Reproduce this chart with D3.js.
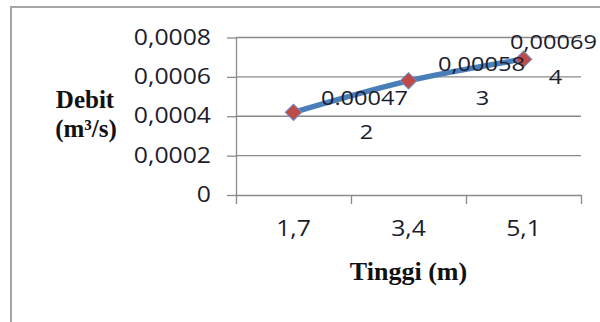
<!DOCTYPE html>
<html>
<head>
<meta charset="utf-8">
<script src="https://cdn.jsdelivr.net/npm/d3@7"></script>
<style>
  body { margin: 0; background: #fff; }
  svg { display: block; }
  .tick text { font-family: 'Open Sans', sans-serif; fill: #1c1c2c; }
  .title { font-family: 'Liberation Serif', 'Times New Roman', serif; font-weight: bold; font-size: 26px; fill: #111; }
  .dlabel { font-family: 'Open Sans', sans-serif; font-size: 20px; fill: #1c1c2c; }
</style>
</head>
<body>
<svg id="chart" width="600" height="322"></svg>
<script>
const categories = ['1,7', '3,4', '5,1']
const debit = [0.00042, 0.00058, 0.00069]
const yTicks = [0, 0.0002, 0.0004, 0.0006, 0.0008]
const yTickLabels = ['0', '0,0002', '0,0004', '0,0006', '0,0008']
const valueLabels = ['0.00047', '0,00058', '0,00069']
const indexLabels = ['2', '3', '4']

const sx = 1.18 // the reference text is stretched sideways
const svg = d3.select('#chart')

// outer frame, only the top and left edges are visible
svg.append('rect')
  .attr('x', 11).attr('y', 7).attr('width', 700).attr('height', 400)
  .attr('fill', 'none').attr('stroke', '#a6a6a6').attr('stroke-width', 2)

const plot = { left: 236, right: 581, top: 37.5, bottom: 195 }
const x = d3.scaleBand().domain(categories).range([plot.left, plot.right])
const xEdges = d3.scaleLinear().domain([0, categories.length]).range([plot.left, plot.right])
const y = d3.scaleLinear().domain([0, 0.0008]).range([plot.bottom, plot.top])

const axisColor = '#8a8a8a'

// gridlines
svg.append('g').selectAll('line')
  .data(yTicks.filter(d => d > 0))
  .join('line')
  .attr('x1', plot.left).attr('x2', plot.right)
  .attr('y1', d => y(d)).attr('y2', d => y(d))
  .attr('stroke', axisColor).attr('stroke-width', 1.3)

// y axis
const yAxis = svg.append('g')
  .attr('transform', `translate(${plot.left},0)`)
  .call(d3.axisLeft(y).tickValues(yTicks).tickSize(9).tickSizeOuter(0)
    .tickFormat((d, i) => yTickLabels[i]))
yAxis.selectAll('path, line').attr('stroke', axisColor).attr('stroke-width', 1.3)
yAxis.selectAll('text')
  .attr('font-size', 21)
  .attr('x', -25 / sx)
  .attr('transform', `scale(${sx},1)`)

// x axis: tick marks at the category edges, labels at the centres
const xTicks = svg.append('g')
  .attr('transform', `translate(0,${plot.bottom})`)
  .call(d3.axisBottom(xEdges).ticks(categories.length).tickSize(9).tickSizeOuter(0).tickFormat(''))
xTicks.selectAll('path, line').attr('stroke', axisColor).attr('stroke-width', 1.3)

const xAxis = svg.append('g')
  .attr('transform', `translate(0,${plot.bottom})`)
  .call(d3.axisBottom(x).tickSize(0))
xAxis.select('.domain').remove()
xAxis.selectAll('text')
  .attr('font-size', 21)
  .attr('y', 41).attr('dy', 0)
  .attr('transform', `scale(${sx},1)`)
  .attr('x', 0)

// series line
const pts = categories.map((c, i) => [x(c) + x.bandwidth() / 2, y(debit[i])])
svg.append('path')
  .datum(pts)
  .attr('d', d3.line().curve(d3.curveCardinal.tension(0)))
  .attr('fill', 'none')
  .attr('stroke', '#4a7ebb')
  .attr('stroke-width', 5.5)
  .attr('stroke-linecap', 'round')

// diamond markers
svg.append('g').selectAll('path')
  .data(pts)
  .join('path')
  .attr('transform', d => `translate(${d[0]},${d[1]}) rotate(45)`)
  .attr('d', 'M-5.8,-5.8H5.8V5.8H-5.8Z')
  .attr('fill', '#be4b48')
  .attr('stroke', '#6d8ec4')
  .attr('stroke-width', 1)

// data labels as they sit in the reference
const valueOffsets = [[71, -7], [73, -10], [30, -10]]
const indexOffsets = [[73, 27], [74, 24], [32, 25]]
svg.append('g').selectAll('text')
  .data(valueLabels)
  .join('text')
  .attr('class', 'dlabel')
  .attr('text-anchor', 'middle')
  .attr('transform', (d, i) => `translate(${pts[i][0] + valueOffsets[i][0]},${pts[i][1] + valueOffsets[i][1]}) scale(${sx},1)`)
  .text(d => d)
svg.append('g').selectAll('text')
  .data(indexLabels)
  .join('text')
  .attr('class', 'dlabel')
  .attr('text-anchor', 'middle')
  .attr('transform', (d, i) => `translate(${pts[i][0] + indexOffsets[i][0]},${pts[i][1] + indexOffsets[i][1]}) scale(${sx},1)`)
  .text(d => d)

// axis titles
svg.append('text').attr('class', 'title')
  .attr('x', (plot.left + plot.right) / 2).attr('y', 280)
  .attr('text-anchor', 'middle')
  .text('Tinggi (m)')
svg.append('text').attr('class', 'title')
  .attr('x', 85).attr('y', 108)
  .attr('text-anchor', 'middle')
  .style('font-size', '25px')
  .text('Debit')
svg.append('text').attr('class', 'title')
  .attr('x', 86).attr('y', 137)
  .attr('text-anchor', 'middle')
  .style('font-size', '25px')
  .text('(m³/s)')
</script>
</body>
</html>
